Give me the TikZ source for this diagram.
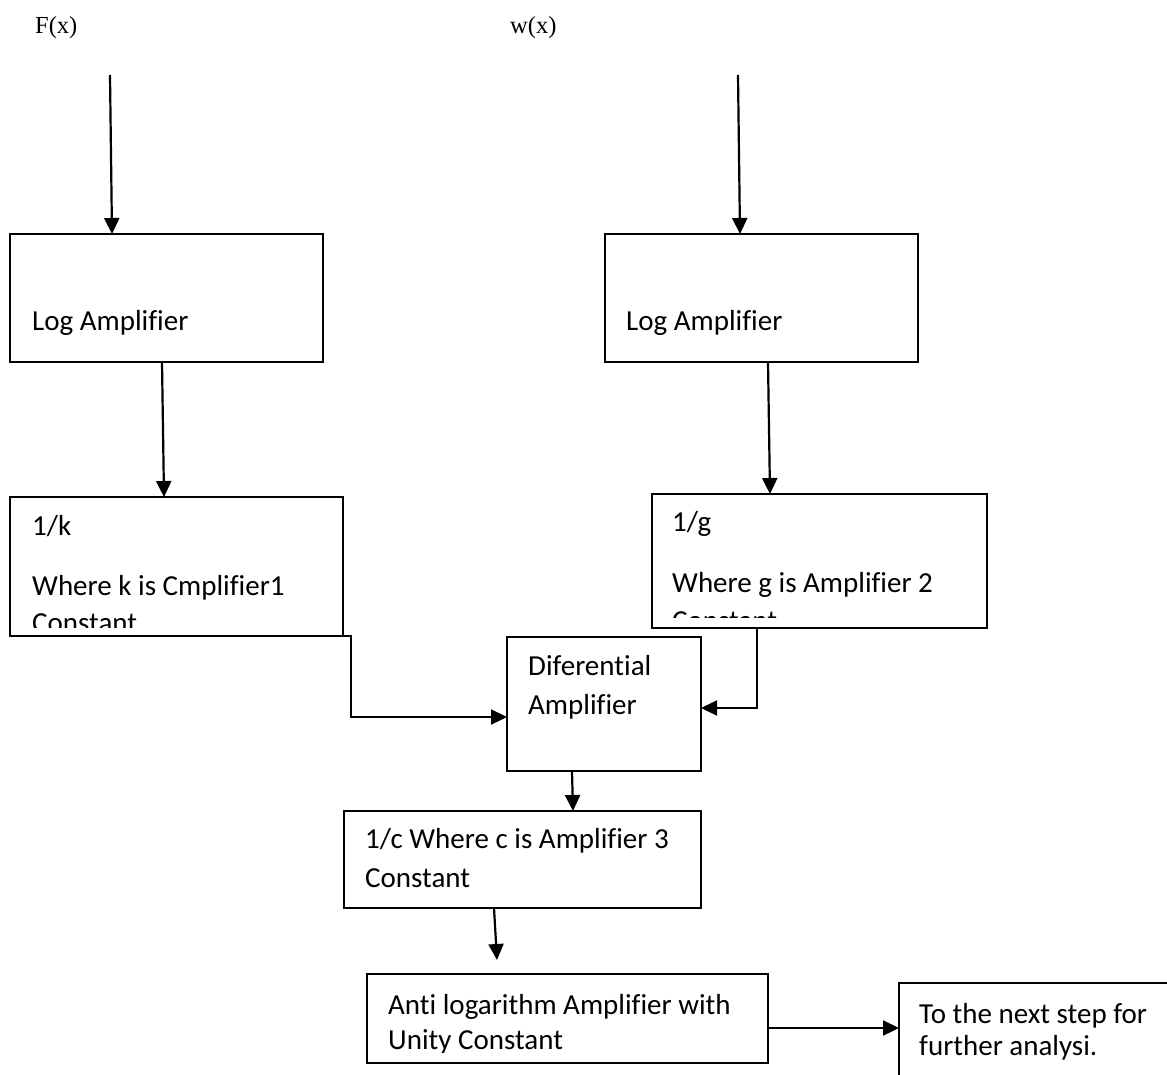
\documentclass[tikz,border=0pt]{standalone}
\usepackage{fontspec}
\setmainfont{Carlito}[Ligatures=NoCommon]
\newfontfamily\tnr{Liberation Serif}
\usetikzlibrary{arrows.meta,calc}
\begin{document}
\begin{tikzpicture}[x=1pt,y=-1pt,
  box/.style={draw, line width=2.4pt, rectangle, inner sep=0pt, outer sep=0pt},
  conn/.style={line width=2.2pt, -{Triangle[length=16pt,width=15pt]}},
  txt/.style={anchor=base west, inner sep=0pt, font=\fontsize{29}{36}\selectfont},
  lbl/.style={anchor=base west, inner sep=0pt, font=\tnr\fontsize{24.5}{28}\selectfont}]

\path[use as bounding box, clip] (0,0) rectangle (1167,1074);
\fill[white] (0,0) rectangle (1167,1074);

% boxes
\node[box, minimum width=313pt, minimum height=128pt] (la1) at (166.5,298) {};
\node[box, minimum width=313pt, minimum height=128pt] (la2) at (761.5,298) {};
\node[box, minimum width=333pt, minimum height=139pt] (kbox) at (176.5,566.5) {};
\node[box, minimum width=335pt, minimum height=134pt] (gbox) at (819.5,561) {};
\node[box, minimum width=194pt, minimum height=134pt] (diff) at (604,704) {};
\node[box, minimum width=357pt, minimum height=97pt] (cbox) at (522.5,859.5) {};
\node[box, minimum width=401pt, minimum height=89pt] (anti) at (567.5,1018.5) {};
\node[box, minimum width=301pt, minimum height=117pt] (final) at (1049.5,1041.5) {};

% input labels
\node[lbl] (fx) at (35,33) {F(x)};
\node[lbl] (wx) at (510,33) {w(x)};

% texts
\node[txt] (t1) at (32,330) {Log Amplifier};
\node[txt] (t2) at (626,330) {Log Amplifier};
\begin{scope}
  \clip (0,480) rectangle (345,627);
  \node[txt] (tk1) at (32,535) {1/k};
  \node[txt] (tk2) at (32,595) {Where k is Cmplifier1};
  \node[txt] (tk3) at (32,632) {Constant};
\end{scope}
\begin{scope}
  \clip (640,480) rectangle (990,617);
  \node[txt] (tg1) at (672,531) {1/g};
  \node[txt] (tg2) at (672,592) {Where g is Amplifier 2};
  \node[txt] (tg3) at (672,630) {Constant};
\end{scope}
\node[txt] (td1) at (528,675) {Diferential};
\node[txt] (td2) at (528,714) {Amplifier};
\node[txt] (tc1) at (365,848) {1/c Where c is Amplifier 3};
\node[txt] (tc2) at (365,887) {Constant};
\begin{scope}
  \clip (360,980) rectangle (770,1052);
  \node[txt] (ta1) at (388,1014) {Anti logarithm Amplifier with};
  \node[txt] (ta2) at (388,1049) {Unity Constant};
\end{scope}
\node[txt] (tf1) at (919,1023) {To the next step for};
\node[txt] (tf2) at (919,1055) {further analysi.};

% connectors
\coordinate (fin) at (110,75);
\coordinate (win) at (738,75);
\draw[conn] (fin) -- ($(la1.north west)+(102,0)$);
\draw[conn] (win) -- ($(la2.north west)+(135,0)$);
\draw[conn] ($(la1.south west)+(152,0)$) -- ($(kbox.north west)+(154,0)$);
\draw[conn] ($(la2.south west)+(163,0)$) -- ($(gbox.north west)+(118,0)$);
\draw[conn] (kbox.south east) -- ++(8,0) |- ($(diff.north west)+(0,80)$);
\draw[conn] ($(gbox.south west)+(105,0)$) |- ($(diff.north east)+(0,71)$);
\draw[conn] ($(diff.south west)+(65,0)$) -- ($(cbox.north west)+(229,0)$);
\draw[conn] ($(cbox.south west)+(150,0)$) -- ($(anti.north west)+(130,-14)$);
\draw[conn] ($(anti.north east)+(0,54)$) -- ($(final.north west)+(0,45)$);
\end{tikzpicture}
\end{document}
